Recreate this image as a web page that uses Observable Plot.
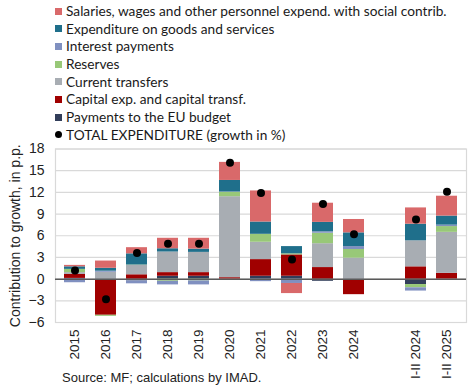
<!DOCTYPE html>
<html>
<head>
<meta charset="utf-8">
<script src="https://cdn.jsdelivr.net/npm/d3@7"></script>
<script src="https://cdn.jsdelivr.net/npm/@observablehq/plot@0.6"></script>
<style>
  html, body { margin: 0; padding: 0; background: #fff; }
  #wrap { position: relative; width: 475px; height: 388px; overflow: hidden; }
  #legend { position: absolute; left: 0; top: 2px; font-family: Lato, "Noto Sans", sans-serif; font-size: 13.7px; color: #1a1a1a; }
  .row { position: relative; height: 17.7px; line-height: 17.7px; white-space: nowrap; }
  .sw { position: absolute; left: 55px; top: 5.5px; width: 7px; height: 7px; }
  .dt { position: absolute; left: 55px; top: 5.5px; width: 7px; height: 7px; border-radius: 50%; background: #000; }
  .lb { position: absolute; left: 66px; top: 0; }
  #chart { position: absolute; left: 0; top: 138px; }
  #chart svg text { font-size: 14px !important; }
  #chart svg g[aria-label="x-axis tick label"] text { font-size: 13.5px !important; }
  #source { position: absolute; left: 62px; top: 370px; font-family: "Liberation Sans", Arial, sans-serif; font-size: 13px; color: #222; }
</style>
</head>
<body>
<div id="wrap">
  <div id="legend"></div>
  <div id="chart"></div>
  <div id="source">Source: MF; calculations by IMAD.</div>
</div>
<script>
// Categories
const periods = ["2015","2016","2017","2018","2019","2020","2021","2022","2023","2024","I-II 2024","I-II 2025"];
const xDomain = ["2015","2016","2017","2018","2019","2020","2021","2022","2023","2024","","I-II 2024","I-II 2025"];

// Series values (contribution to growth, p.p.)
const salaries = [0.2, 1.0, 0.85, 1.45, 1.5, 2.5, 4.3, -1.4, 2.65, 1.85, 2.25, 2.75];
const goods    = [0.35, 0.4, 1.55, 0.45, 0.45, 1.6, 1.7, 1.0, 1.3, 1.9, 2.3, 1.25];
const interest = [-0.5, 0.15, -0.4, -0.5, -0.55, 0.05, -0.35, -0.6, 0.2, 0.4, -0.45, 0.2];
const reserves = [0.45, -0.15, 0.05, -0.3, -0.25, 0.6, 1.1, 0.15, 1.45, 1.2, -0.45, 0.8];
const current  = [0.25, 0.95, 1.3, 2.85, 2.8, 11.2, 2.4, 0.0, 3.3, 2.9, 3.6, 5.67];
const capital  = [0.55, -4.9, 0.6, 0.5, 0.5, 0.2, 2.3, 2.95, 1.6, -2.1, 1.7, 0.8];
const euBudget = [0.1, -0.1, -0.25, 0.4, 0.4, 0.0, 0.4, 0.4, -0.3, -0.05, -0.75, 0.0];
const total    = [1.2, -2.8, 3.6, 4.9, 4.9, 16.1, 11.9, 2.7, 10.4, 6.2, 8.25, 12.1];

// Legend labels (top to bottom)
const seriesNames = [
  "Salaries, wages and other personnel expend. with social contrib.",
  "Expenditure on goods and services",
  "Interest payments",
  "Reserves",
  "Current transfers",
  "Capital exp. and capital transf.",
  "Payments to the EU budget"
];
const totalName = "TOTAL EXPENDITURE (growth in %)";
const colors = ["#D9696A", "#1F6F8B", "#8090C0", "#98C878", "#A8ADB3", "#A00000", "#323E5A"];
const yTicks = [-6, -3, 0, 3, 6, 9, 12, 15, 18];

const seriesValues = [salaries, goods, interest, reserves, current, capital, euBudget];

// Stack from bottom: EU, capital, current, reserves, interest, goods, salaries
const stackOrder = [6, 5, 4, 3, 2, 1, 0];
const rows = [];
for (const s of stackOrder) {
  periods.forEach((p, i) => rows.push({period: p, series: seriesNames[s], value: seriesValues[s][i]}));
}
const totals = periods.map((p, i) => ({period: p, value: total[i]}));

// Legend
const legend = document.getElementById("legend");
seriesNames.forEach((n, i) => {
  const r = document.createElement("div");
  r.className = "row";
  r.innerHTML = `<span class="sw" style="background:${colors[i]}"></span><span class="lb"></span>`;
  r.querySelector(".lb").textContent = n;
  legend.appendChild(r);
});
{
  const r = document.createElement("div");
  r.className = "row";
  r.innerHTML = `<span class="dt"></span><span class="lb"></span>`;
  r.querySelector(".lb").textContent = totalName;
  legend.appendChild(r);
}

const chart = Plot.plot({
  width: 475,
  height: 250,
  marginLeft: 55,
  marginRight: 9,
  marginTop: 10.5,
  marginBottom: 66,
  style: {fontFamily: "'Liberation Sans', Arial, sans-serif", fontSize: "14px", color: "#222", background: "transparent", overflow: "visible"},
  x: {type: "band", domain: xDomain, paddingInner: 0.33, paddingOuter: 0.165},
  y: {domain: [-6, 18]},
  color: {domain: seriesNames, range: colors},
  marks: [
    Plot.gridY(yTicks, {stroke: "#d9d9d9", strokeOpacity: 1, strokeWidth: 1.2}),
    Plot.frame({stroke: "#d9d9d9", strokeWidth: 1.2}),
    Plot.barY(rows, {x: "period", y: "value", fill: "series", order: null}),
    Plot.ruleY([0], {stroke: "#5a5a5a", strokeWidth: 1.5}),
    Plot.dot(totals, {x: "period", y: "value", r: 4, fill: "#000"}),
    Plot.axisY({ticks: yTicks, tickSize: 0, tickPadding: 11, fontSize: 14,
      label: "Contribution to growth, in p.p.", labelAnchor: "center", labelArrow: "none", labelOffset: 45}),
    Plot.axisX({ticks: periods, tickSize: 0, tickPadding: 7, tickRotate: -90, fontSize: 13.5, label: null})
  ]
});
document.getElementById("chart").appendChild(chart);
</script>
</body>
</html>
